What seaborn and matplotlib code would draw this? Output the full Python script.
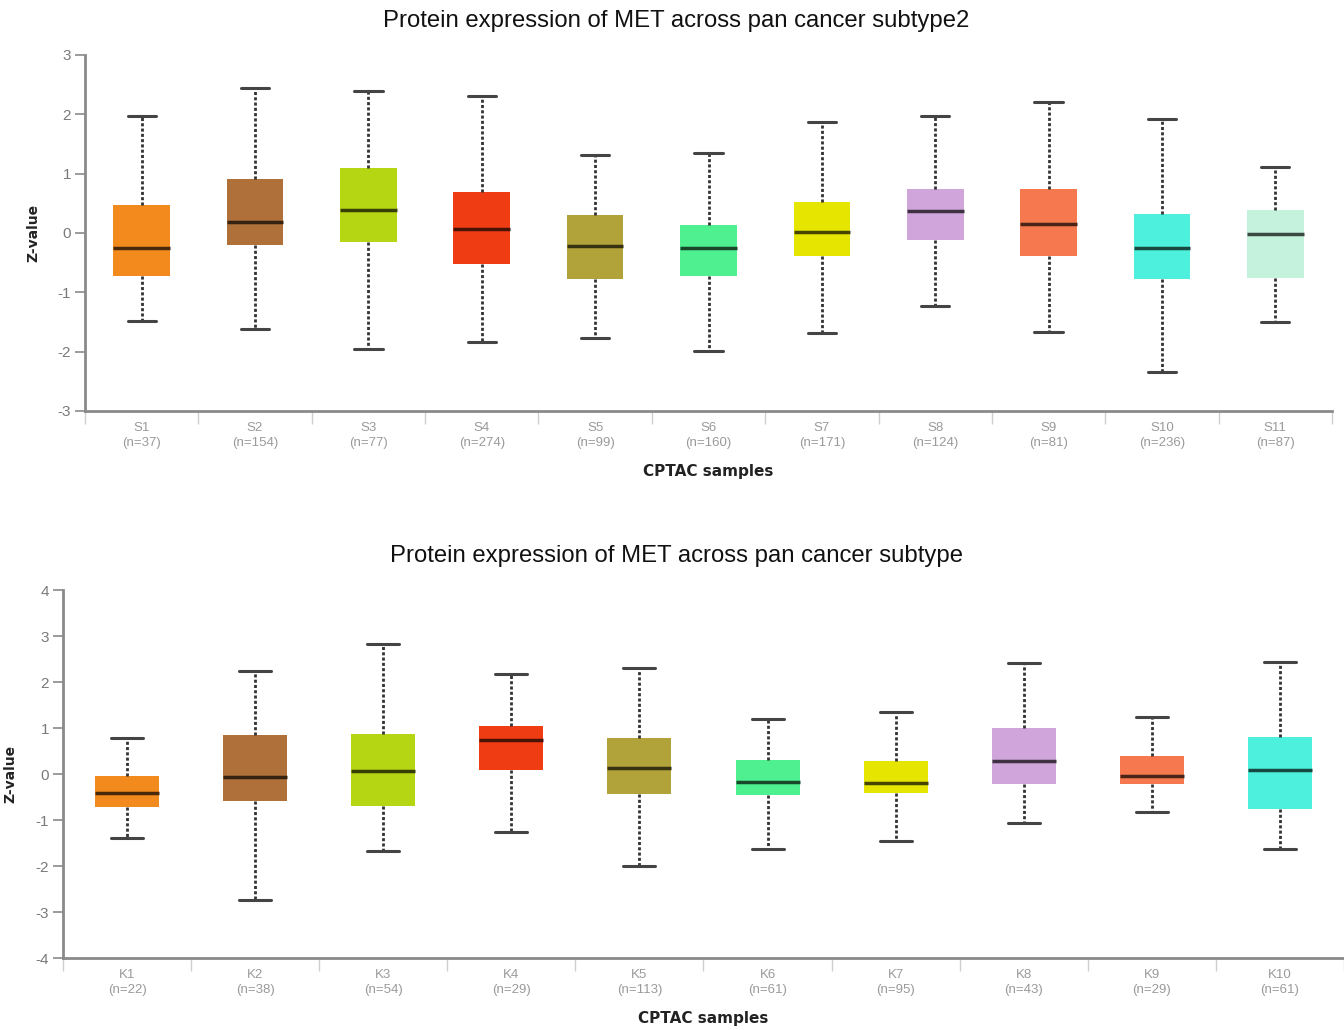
import numpy as np
import pandas as pd
import matplotlib
matplotlib.use("Agg")
import matplotlib.pyplot as plt
import matplotlib.colors as mcolors
import seaborn as sns

# ---------------- data ----------------
top_title = "Protein expression of MET across pan cancer subtype2"
top_cats = ["S1", "S2", "S3", "S4", "S5", "S6", "S7", "S8", "S9", "S10", "S11"]
top_n = [37, 154, 77, 274, 99, 160, 171, 124, 81, 236, 87]
top_low = [-1.48, -1.61, -1.95, -1.83, -1.77, -1.99, -1.69, -1.23, -1.67, -2.35, -1.50]
top_q1 = [-0.73, -0.21, -0.16, -0.53, -0.78, -0.73, -0.38, -0.11, -0.38, -0.78, -0.76]
top_med = [-0.25, 0.18, 0.39, 0.07, -0.22, -0.25, 0.01, 0.37, 0.16, -0.25, -0.02]
top_q3 = [0.47, 0.91, 1.09, 0.69, 0.30, 0.14, 0.53, 0.74, 0.74, 0.32, 0.38]
top_high = [1.97, 2.44, 2.40, 2.31, 1.31, 1.35, 1.87, 1.97, 2.21, 1.92, 1.12]
top_colors = ["#F28A1E", "#B0703A", "#B5D612", "#F03C12", "#B2A23A", "#4EF08F",
              "#E5E500", "#D0A5DC", "#F5784E", "#4DF0DC", "#C4F2DC"]

bot_title = "Protein expression of MET across pan cancer subtype"
bot_cats = ["K1", "K2", "K3", "K4", "K5", "K6", "K7", "K8", "K9", "K10"]
bot_n = [22, 38, 54, 29, 113, 61, 95, 43, 29, 61]
bot_low = [-1.40, -2.74, -1.67, -1.25, -1.99, -1.63, -1.46, -1.06, -0.82, -1.64]
bot_q1 = [-0.71, -0.58, -0.69, 0.09, -0.44, -0.46, -0.41, -0.22, -0.22, -0.75]
bot_med = [-0.42, -0.06, 0.06, 0.74, 0.14, -0.17, -0.19, 0.29, -0.04, 0.09]
bot_q3 = [-0.04, 0.84, 0.88, 1.04, 0.78, 0.30, 0.29, 0.99, 0.39, 0.80]
bot_high = [0.79, 2.24, 2.82, 2.17, 2.30, 1.19, 1.34, 2.42, 1.24, 2.44]
bot_colors = ["#F28A1E", "#B0703A", "#B5D612", "#F03C12", "#B2A23A", "#4EF08F",
              "#E5E500", "#D0A5DC", "#F5784E", "#4DF0DC"]

xlabel = "CPTAC samples"
ylabel = "Z-value"

sns.set_theme(style="white")
plt.rcParams["font.family"] = ["Liberation Sans", "DejaVu Sans"]
plt.rcParams["axes.unicode_minus"] = False

fig = plt.figure(figsize=(13.44, 10.30), dpi=100)
ax_top = fig.add_axes([85 / 1344, 1 - 411 / 1030, 1247 / 1344, 356 / 1030])
ax_bot = fig.add_axes([63 / 1344, 1 - 958 / 1030, 1281 / 1344, 368 / 1030])

GREY = "#8a8a8a"


def darken(c, f=0.3):
    r, g, b = mcolors.to_rgb(c)
    return (r * f, g * f, b * f)


def draw(ax, cats, n, low, q1, med, q3, high, colors, ylim, ylabel_x):
    # five summary values per group -> percentiles reproduce the box exactly
    rows = []
    for c, a, b, m, d, e in zip(cats, low, q1, med, q3, high):
        for v in (a, b, m, d, e):
            rows.append({"cat": c, "val": v})
    df = pd.DataFrame(rows)
    sns.boxplot(data=df, x="cat", y="val", hue="cat", order=cats, hue_order=cats,
                palette=colors, saturation=1, dodge=False, legend=False, width=0.5,
                whis=(0, 100), ax=ax, showfliers=False,
                boxprops=dict(linewidth=0),
                whiskerprops=dict(color="#333333", linewidth=2.0, linestyle=(0, (1.1, 0.8))),
                capprops=dict(color="#444444", linewidth=2.2),
                medianprops=dict(linewidth=2.5))
    for cont in ax.containers:
        try:
            for box, mline in zip(cont.boxes, cont.medians):
                mline.set_color(darken(box.get_facecolor()))
        except AttributeError:
            pass
    ax.set_xlim(-0.5, len(cats) - 0.5)
    ax.set_ylim(*ylim)
    ax.set_yticks(range(ylim[0], ylim[1] + 1))
    ax.set_xticks(range(len(cats)))
    ax.set_xticklabels([f"{c}\n(n={k})" for c, k in zip(cats, n)],
                       fontsize=9.5, color="#9a9a9a", linespacing=1.3)
    ax.set_xticks(np.arange(-0.5, len(cats), 1.0), minor=True)
    ax.tick_params(axis="x", which="major", length=0, pad=8)
    ax.tick_params(axis="x", which="minor", length=9, width=1, color="#cfcfcf",
                   direction="out", bottom=True)
    ax.tick_params(axis="y", which="major", length=7, width=1.2, color=GREY,
                   labelsize=11, labelcolor="#7a7a7a", left=True, direction="out", pad=3)
    for s in ("top", "right"):
        ax.spines[s].set_visible(False)
    for s in ("left", "bottom"):
        ax.spines[s].set_color(GREY)
        ax.spines[s].set_linewidth(2)
    ax.set_xlabel(xlabel, fontsize=11, fontweight="bold", color="#222222",
                  family=["DejaVu Sans"], labelpad=11)
    ax.set_ylabel(ylabel, fontsize=10, fontweight="bold", color="#222222",
                  family=["DejaVu Sans"])
    ax.yaxis.set_label_coords(ylabel_x, 0.5)
    ax.grid(False)
    ax.set_facecolor("white")


draw(ax_top, top_cats, top_n, top_low, top_q1, top_med, top_q3, top_high,
     top_colors, (-3, 3), -45 / 1247)
draw(ax_bot, bot_cats, bot_n, bot_low, bot_q1, bot_med, bot_q3, bot_high,
     bot_colors, (-4, 4), -46 / 1281)

fig.text(676 / 1344, 1 - 21 / 1030, top_title, ha="center", va="center",
         fontsize=17.2, color="#111111")
fig.text(676 / 1344, 1 - 556 / 1030, bot_title, ha="center", va="center",
         fontsize=17.2, color="#111111")

fig.savefig("out.png", dpi=100, facecolor="white")
